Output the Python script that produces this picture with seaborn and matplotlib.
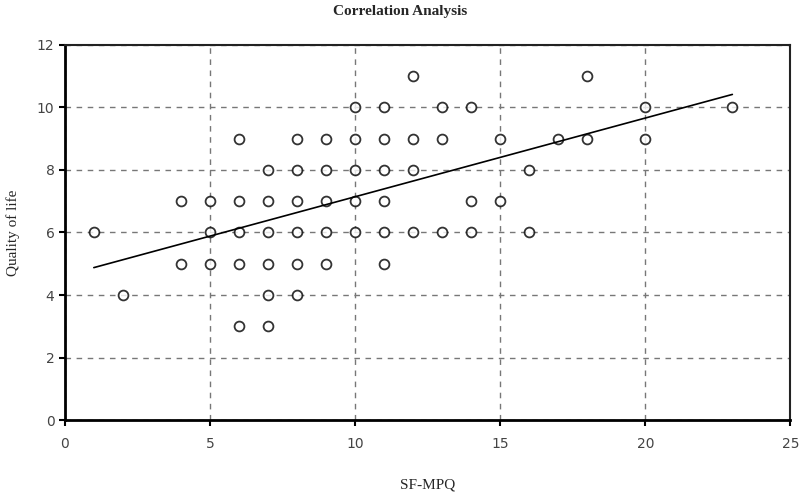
import numpy as np
import pandas as pd
import seaborn as sns
from matplotlib import pyplot as plt

# SF-MPQ score vs quality of life
sf_mpq = [1, 2,
          4, 4,
          5, 5, 5,
          6, 6, 6, 6, 6,
          7, 7, 7, 7, 7, 7,
          8, 8, 8, 8, 8, 8,
          9, 9, 9, 9, 9,
          10, 10, 10, 10, 10,
          11, 11, 11, 11, 11, 11,
          12, 12, 12, 12,
          13, 13, 13,
          14, 14, 14,
          15, 15,
          16, 16,
          17,
          18, 18,
          20, 20,
          23]
quality = [6, 4,
           7, 5,
           7, 6, 5,
           9, 7, 6, 5, 3,
           8, 7, 6, 5, 4, 3,
           9, 8, 7, 6, 5, 4,
           9, 8, 7, 6, 5,
           10, 9, 8, 7, 6,
           10, 9, 8, 7, 6, 5,
           11, 9, 8, 6,
           10, 9, 6,
           10, 7, 6,
           9, 7,
           8, 6,
           9,
           11, 9,
           10, 9,
           10]

x_ticks = [0, 5, 10, 15, 20, 25]
y_ticks = [0, 2, 4, 6, 8, 10, 12]

df = pd.DataFrame({"SF-MPQ": sf_mpq, "Quality of life": quality})

sns.set_style("white")
fig = plt.figure(figsize=(8, 4.92), dpi=100)
ax = fig.add_axes([0.081, 0.146, 0.907, 0.763])

sns.regplot(data=df, x="SF-MPQ", y="Quality of life", ax=ax, ci=None, truncate=True,
            scatter_kws=dict(s=50, facecolor="white", edgecolor="black", linewidths=1.3, zorder=3),
            line_kws=dict(color="black", lw=1.2, zorder=4))

ax.set_xlim(0, 25)
ax.set_ylim(0, 12)
ax.set_xticks(x_ticks)
ax.set_yticks(y_ticks)
ax.grid(True, ls=(0, (4, 4)), color="#777777", lw=1.0)
ax.set_axisbelow(True)

for side in ["left", "bottom"]:
    ax.spines[side].set_linewidth(2.0)
    ax.spines[side].set_color("black")
for side in ["top", "right"]:
    ax.spines[side].set_linewidth(1.5)
    ax.spines[side].set_color("#222222")

ax.tick_params(axis="both", which="major", direction="out", length=4, width=1.5,
               labelsize=10, color="black", bottom=True, left=True)
ax.tick_params(axis="x", pad=8)
for lab in ax.get_xticklabels() + ax.get_yticklabels():
    lab.set_family("DejaVu Sans")
    lab.set_color("#444444")

ax.set_xlabel("SF-MPQ", family="Liberation Serif", fontsize=11, labelpad=20)
ax.set_ylabel("Quality of life", family="Liberation Serif", fontsize=11, labelpad=12)
fig.text(0.5, 1 - 12 / 492, "Correlation Analysis", family="Liberation Serif", fontsize=11,
         fontweight="bold", ha="center", va="center")

fig.savefig("out.png", dpi=100)
